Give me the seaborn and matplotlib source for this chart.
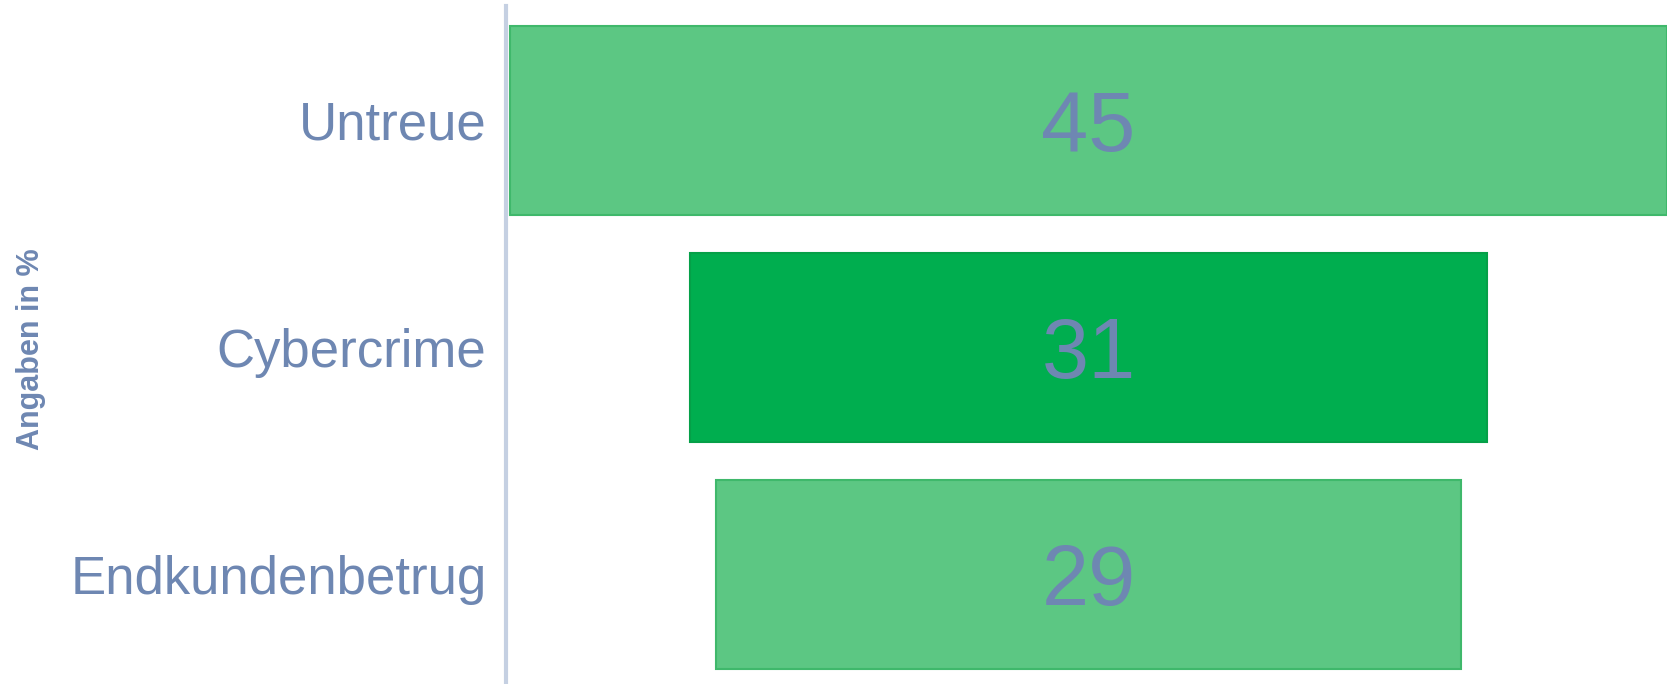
import matplotlib
matplotlib.use("Agg")
import matplotlib.pyplot as plt
import matplotlib.transforms as mtransforms
import seaborn as sns
import pandas as pd

# data
categories = ["Untreue", "Cybercrime", "Endkundenbetrug"]
values = [45, 31, 29]
bar_colors = ["#5cc783", "#00ae4f", "#5cc783"]
edge_colors = ["#3fb86b", "#05a048", "#3fb86b"]

text_color = "#6e87b2"

sns.set_theme(style="white")
plt.rcParams["font.family"] = ["Liberation Sans", "DejaVu Sans"]

df = pd.DataFrame({"kategorie": categories, "wert": values})

fig = plt.figure(figsize=(16.67, 6.84), dpi=100)
ax = fig.add_axes([506 / 1667, 0, 1 - 506 / 1667, 678 / 684])

sns.barplot(data=df, x="wert", y="kategorie", hue="kategorie",
            palette=bar_colors, saturation=1, orient="h", width=0.833,
            legend=False, ax=ax)

# digits sit on a baseline half their height below the bar centre
num_trans = mtransforms.offset_copy(ax.transData, fig=fig, x=0, y=-22, units="points")

# center each bar (funnel style)
for patch, val, ec in zip(ax.patches, values, edge_colors):
    patch.set_x(-val / 2)
    patch.set_edgecolor(ec)
    patch.set_linewidth(1.5)
    ax.text(0, patch.get_y() + patch.get_height() / 2, f"{val}",
            ha="center", va="baseline", fontsize=61, color=text_color,
            transform=num_trans)

ax.set_xlim(-22.66, 22.5)
ax.set_ylim(2.482, -0.504)

ax.set_xlabel("")
ax.set_ylabel("")
ax.set_xticks([])
ax.tick_params(axis="y", length=0, pad=14, labelsize=38, labelcolor=text_color)

for side in ["top", "right", "bottom"]:
    ax.spines[side].set_visible(False)
ax.spines["left"].set_color("#c5d0e2")
ax.spines["left"].set_linewidth(3)

fig.text(31 / 1667, 1 - 349 / 684, "Angaben in %", rotation=90,
         ha="center", va="center", fontsize=22, fontweight="bold",
         color=text_color)

fig.savefig("out.png", dpi=100)
